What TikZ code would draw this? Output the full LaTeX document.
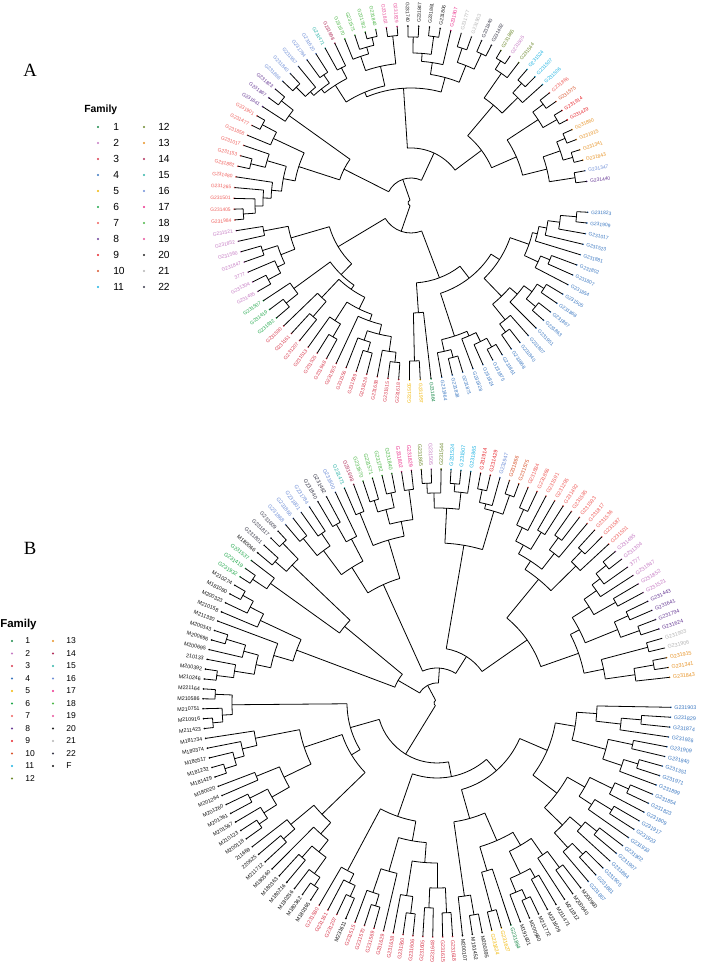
\documentclass[tikz,border=0pt]{standalone}
\usepackage{fontspec}
\setmainfont{Liberation Sans}
\newfontfamily\panelfont{Liberation Serif}

\definecolor{fam0}{HTML}{111111}
\definecolor{fam1}{HTML}{1A8A4A}
\definecolor{fam2}{HTML}{C67BC4}
\definecolor{fam3}{HTML}{D93A4E}
\definecolor{fam4}{HTML}{3B78C2}
\definecolor{fam5}{HTML}{F2B705}
\definecolor{fam6}{HTML}{1FA84A}
\definecolor{fam7}{HTML}{F0605D}
\definecolor{fam8}{HTML}{6B3E98}
\definecolor{fam9}{HTML}{E8242B}
\definecolor{fam10}{HTML}{D9552E}
\definecolor{fam11}{HTML}{1CB3E3}
\definecolor{fam12}{HTML}{6E8B2E}
\definecolor{fam13}{HTML}{E89325}
\definecolor{fam14}{HTML}{B2305C}
\definecolor{fam15}{HTML}{30B5A9}
\definecolor{fam16}{HTML}{6F8FD8}
\definecolor{fam17}{HTML}{EC2F8C}
\definecolor{fam18}{HTML}{4DB848}
\definecolor{fam19}{HTML}{E9519B}
\definecolor{fam20}{HTML}{222222}
\definecolor{fam21}{HTML}{B5B5B5}
\definecolor{fam22}{HTML}{3A3A4A}
\definecolor{famF}{HTML}{111111}

\newcounter{ndcount}

% leaf: angle of tip number #1
\newcommand\Lf[1]{%
  \pgfmathsetmacro\tmpang{\angzero+(#1-1)*\angstep}%
  \xdef\retang{\tmpang}\xdef\retname{\tpre#1}}

% inner node: radius, first child, second child
\newcommand\Nd[3]{%
  \begingroup
    \begingroup#2\endgroup
    \let\aA\retang \let\nA\retname
    \begingroup#3\endgroup
    \let\aB\retang \let\nB\retname
    \pgfmathsetmacro\aM{(\aA+\aB)/2}%
    \pgfmathsetmacro\rr{#1*0.75}%
    \stepcounter{ndcount}%
    \edef\nM{\tpre n\arabic{ndcount}}%
    \coordinate (\nM) at (\aM:#1);
    \draw[branch] (\aA:#1) arc[start angle=\aA, end angle=\aB, radius=\rr pt];
    \draw[branch] (\nA) -- (\aA:#1);
    \draw[branch] (\nB) -- (\aB:#1);
    \xdef\retang{\aM}\xdef\retname{\nM}%
  \endgroup}

% tips with coloured dot and turned label
\newcommand\Tips[1]{%
  \foreach \lab/\fc [count=\i] in {#1}{
    \pgfmathsetmacro\ang{\angzero+(\i-1)*\angstep}
    \pgfmathsetmacro\labr{\tipr+2.5}
    \pgfmathtruncatemacro\side{(\ang>90)*(\ang<=270)}
    \coordinate (\tpre\i) at (\ang:\tipr);
    \fill[fam\fc] (\tpre\i) circle[radius=0.7pt];
    \ifnum\side=0
      \node[\tpre lab, text=fam\fc, rotate=\ang, anchor=west] (\tpre l\i) at (\ang:\labr) {\lab};
    \else
      \pgfmathsetmacro\angr{\ang-180}
      \node[\tpre lab, text=fam\fc, rotate=\angr, anchor=east] (\tpre l\i) at (\ang:\labr) {\lab};
    \fi
  }}

\tikzset{
  branch/.style={line width=0.6pt, black},
  Alab/.style={font=\fontsize{3.7}{4}\selectfont, inner sep=0.5pt},
  Blab/.style={font=\fontsize{4}{4.5}\selectfont, inner sep=0.5pt},
  legA/.style={font=\fontsize{7.7}{9}\selectfont, inner sep=0pt},
  legB/.style={font=\fontsize{6.4}{8}\selectfont, inner sep=0pt},
  famhead/.style={font=\bfseries\fontsize{7.8}{9}\selectfont, inner sep=0pt},
  famheadB/.style={font=\bfseries\fontsize{8.6}{10}\selectfont, inner sep=0pt},
  panel/.style={font=\panelfont\fontsize{14}{16}\selectfont, inner sep=0pt},
}

\begin{document}
\begin{tikzpicture}[x=0.75pt,y=0.75pt]
\fill[white] (0,0) rectangle (700,967);
\useasboundingbox (0,0) rectangle (700,967);

\node[panel] (pA) at (30,897) {A};
\node[panel] (pB) at (30,419) {B};

% legend A
\node[famhead, anchor=west] (legAt) at (84,857) {Family};
\foreach \i in {1,...,11}{
  \pgfmathsetmacro\yy{840-16*(\i-1)}
  \fill[fam\i] (98,\yy) circle[radius=0.9pt];
  \node[legA, anchor=west] (legA\i) at (113,\yy) {\i};
}
\foreach \i in {12,...,22}{
  \pgfmathsetmacro\yy{840-16*(\i-12)}
  \fill[fam\i] (144,\yy) circle[radius=0.9pt];
  \node[legA, anchor=west] (legA\i) at (158,\yy) {\i};
}

% legend B
\node[famheadB, anchor=west] (legBt) at (0,342) {Family};
\foreach \i in {1,...,12}{
  \pgfmathsetmacro\yy{326-12.5*(\i-1)}
  \fill[fam\i] (12,\yy) circle[radius=0.8pt];
  \node[legB, anchor=west] (legB\i) at (25,\yy) {\i};
}
\foreach \i in {13,...,22}{
  \pgfmathsetmacro\yy{326-12.5*(\i-13)}
  \fill[fam\i] (53,\yy) circle[radius=0.8pt];
  \node[legB, anchor=west] (legB\i) at (66,\yy) {\i};
}
\fill[famF] (53,201) circle[radius=0.8pt];
\node[legB, anchor=west] (legBF) at (66,201) {F};

% tree A
\begin{scope}[shift={(411,764)}]
\def\tpre{A}\def\angzero{7}\def\angstep{3.5}\def\tipr{177}
\Tips{G231440/8,G231347/16,G231843/13,G231341/13,G231915/13,G231860/13,
G231429/9,G231914/9,G231575/10,G231866/7,G231506/11,G231507/11,G231524/11,
G231544/12,G231505/2,G231865/12,G231482/22,G231840/22,G231903/21,G231777/21,
G231907/17,G231806/20,G231861/20,G231847/20,G231740/20,G231829/19,G231802/19,
G231840/18,G231782/18,G231571/18,G231670/18,G231698/14,G231471/15,G231620/16,
G231784/16,G231957/16,G231840/16,G231866/16,G231823/8,G231867/8,G231641/8,
G231901/7,G231477/7,G231858/7,G231017/7,G231153/7,G231882/7,G231480/7,
G231265/7,G231501/7,G231405/7,G231984/7,G231521/2,G231852/2,G231560/2,
G231847/2,3777/2,G231304/2,G231495/2,G231507/6,G231419/6,G231932/6,
G231590/3,G231161/3,G231207/3,G231513/3,G231525/3,G231948/3,G231505/3,
G231556/3,G231589/3,G231626/3,G231638/3,G231515/3,G231618/3,G231505/5,
G231957/5,G231864/1,G231964/4,G231838/4,G231871/4,G231828/4,G231824/4,
G231875/4,G231861/4,G231868/4,G231840/4,G231807/4,G231951/4,G231863/4,
G231867/4,G231868/4,G231505/4,G231854/4,G231807/4,G231802/4,G231881/4,
G231523/4,G231017/4,G231909/4,G231823/4}
\Nd{3}{%
 \Nd{25}{%
  \Nd{55}{%
   \Nd{88}{%
    \Nd{115}{%
     \Nd{140}{\Nd{166}{\Lf{1}}{\Lf{2}}}{\Nd{158}{\Nd{168}{\Lf{3}}{\Lf{4}}}{\Nd{167}{\Lf{5}}{\Lf{6}}}}%
    }{%
     \Nd{152}{\Nd{168}{\Lf{7}}{\Lf{8}}}{\Nd{165}{\Lf{9}}{\Lf{10}}}%
    }%
   }{%
    \Nd{128}{\Nd{150}{\Lf{11}}{\Nd{163}{\Lf{12}}{\Lf{13}}}}{\Nd{158}{\Lf{14}}{\Nd{168}{\Lf{15}}{\Lf{16}}}}%
   }%
  }{%
   \Nd{115}{%
    \Nd{130}{%
     \Nd{148}{\Nd{165}{\Lf{17}}{\Lf{18}}}{\Nd{163}{\Lf{19}}{\Lf{20}}}%
    }{%
     \Nd{142}{\Lf{21}}{\Nd{150}{\Nd{168}{\Lf{22}}{\Lf{23}}}{\Nd{166}{\Lf{24}}{\Lf{25}}}}%
    }%
   }{%
    \Nd{120}{%
     \Nd{140}{\Nd{168}{\Lf{26}}{\Lf{27}}}{\Nd{155}{\Nd{162}{\Nd{170}{\Lf{28}}{\Lf{29}}}{\Lf{30}}}{\Lf{31}}}%
    }{%
     \Nd{140}{\Nd{152}{\Lf{32}}{\Lf{33}}}{\Nd{145}{\Nd{155}{\Lf{34}}{\Lf{35}}}{\Nd{150}{\Lf{36}}{\Nd{163}{\Lf{37}}{\Lf{38}}}}}%
    }%
   }%
  }%
 }{%
  \Nd{75}{%
   \Nd{150}{\Nd{165}{\Lf{39}}{\Lf{40}}}{\Lf{41}}%
  }{%
   \Nd{118}{%
    \Nd{152}{\Nd{168}{\Lf{42}}{\Lf{43}}}{\Lf{44}}%
   }{%
    \Nd{130}{\Nd{150}{\Lf{45}}{\Nd{165}{\Lf{46}}{\Lf{47}}}}{\Nd{140}{\Lf{48}}{\Nd{148}{\Lf{49}}{\Nd{156}{\Lf{50}}{\Nd{168}{\Lf{51}}{\Lf{52}}}}}}%
   }%
  }%
 }%
}{%
 \Nd{30}{%
  \Nd{85}{%
   \Nd{125}{\Nd{150}{\Lf{53}}{\Lf{54}}}{\Nd{140}{\Nd{156}{\Lf{55}}{\Lf{56}}}{\Nd{148}{\Lf{57}}{\Nd{162}{\Lf{58}}{\Lf{59}}}}}%
  }{%
   \Nd{100}{%
    \Nd{145}{\Lf{60}}{\Nd{160}{\Lf{61}}{\Lf{62}}}%
   }{%
    \Nd{105}{%
     \Nd{130}{\Lf{63}}{\Nd{150}{\Lf{64}}{\Lf{65}}}%
    }{%
     \Nd{118}{%
      \Nd{140}{\Lf{66}}{\Nd{155}{\Lf{67}}{\Lf{68}}}%
     }{%
      \Nd{125}{\Lf{69}}{\Nd{135}{\Nd{145}{\Lf{70}}{\Nd{155}{\Lf{71}}{\Lf{72}}}}{\Nd{150}{\Lf{73}}{\Nd{160}{\Lf{74}}{\Lf{75}}}}}%
     }%
    }%
   }%
  }%
 }{%
  \Nd{80}{%
   \Nd{110}{\Nd{158}{\Lf{76}}{\Lf{77}}}{\Lf{78}}%
  }{%
   \Nd{95}{%
    \Nd{140}{\Nd{152}{\Lf{79}}{\Nd{160}{\Lf{80}}{\Lf{81}}}}{\Nd{145}{\Lf{82}}{\Nd{155}{\Lf{83}}{\Nd{165}{\Lf{84}}{\Lf{85}}}}}%
   }{%
    \Nd{105}{%
     \Nd{130}{\Nd{150}{\Nd{160}{\Lf{86}}{\Lf{87}}}{\Lf{88}}}{\Nd{140}{\Lf{89}}{\Nd{150}{\Nd{162}{\Lf{90}}{\Lf{91}}}{\Nd{158}{\Lf{92}}{\Lf{93}}}}}%
    }{%
     \Nd{125}{\Nd{140}{\Lf{94}}{\Nd{150}{\Lf{95}}{\Lf{96}}}}{\Nd{130}{\Lf{97}}{\Nd{138}{\Lf{98}}{\Nd{150}{\Lf{99}}{\Nd{166}{\Lf{100}}{\Lf{101}}}}}}%
    }%
   }%
  }%
 }%
}
\end{scope}

% tree B
\begin{scope}[shift={(437,264)}]
\def\tpre{B}\def\angzero{6.3}\def\angstep{2.432}\def\tipr{234}
\Tips{G231843/13,G231341/13,G231915/13,G231906/21,G231903/21,G231624/8,
G231794/8,G231641/8,G231443/8,G231521/2,G231852/2,G231847/2,3777/2,G231304/2,
G231485/2,G231501/7,G231587/7,G231536/7,G231817/7,G231593/7,G231585/7,
G231492/7,G231295/7,G231591/7,G231866/7,G231884/7,G231575/10,G231866/10,
G231947/16,G231429/9,G231914/9,G231865/11,G231507/11,G231524/11,G231544/12,
G231505/2,G231865/12,G231829/17,G231802/17,G231840/18,G231782/18,G231571/18,
G231670/18,G231698/14,G231471/15,G231800/16,G231482/22,G231840/22,G231784/16,
G231801/16,G231866/16,G231868/16,G231609/22,G231817/22,G231801/22,M180066/0,
G231537/6,G231419/6,G231932/6,M210274/0,M181080/0,M200323/0,M210158/0,
M211330/0,M200343/0,M200696/0,M200695/0,210133/0,M200392/0,M210246/0,
M221164/0,M210586/0,M210751/0,M210916/0,M211423/0,M181734/0,M180374/0,
M180517/0,M181232/0,M181429/0,M180020/0,M201264/0,M201260/0,M201361/0,
M201567/0,M210123/0,M200118/0,211669/0,220625/0,M211712/0,M180560/0,
M180363/0,M180216/0,M180256/0,M180362/0,M180365/0,G231580/3,G231161/3,
G231207/3,M231611/0,G231515/3,G231570/3,G231569/3,G231629/3,G231638/3,
G231550/3,G231606/3,G231605/3,G231648/3,G231615/3,G231618/3,M200107/0,
M191452/0,M200395/0,G231624/5,G231627/5,G231864/1,M191601/0,M200980/0,
M211772/0,M231609/0,M211471/0,M211812/0,M200640/0,M200960/0,G231867/4,
G231881/4,G231905/4,G231864/4,G231907/4,G231902/4,G231933/4,G231923/4,
G231917/4,G231809/4,G231823/4,G231854/4,G231899/4,G231971/4,G231351/4,
G231840/4,G231909/4,G231926/4,G231874/4,G231829/4,G231903/4}
\Nd{3}{%
 \Nd{20}{%
  \Nd{35}{%
   \Nd{55}{%
    \Nd{110}{%
     \Nd{150}{%
      \Nd{170}{\Nd{200}{\Lf{1}}{\Nd{220}{\Lf{2}}{\Lf{3}}}}{\Nd{218}{\Lf{4}}{\Lf{5}}}%
     }{%
      \Nd{160}{\Nd{195}{\Nd{215}{\Lf{6}}{\Lf{7}}}{\Nd{210}{\Lf{8}}{\Lf{9}}}}{\Nd{180}{\Nd{205}{\Lf{10}}{\Lf{11}}}{\Nd{195}{\Lf{12}}{\Nd{205}{\Lf{13}}{\Nd{218}{\Lf{14}}{\Lf{15}}}}}}%
     }%
    }{%
     \Nd{160}{\Nd{195}{\Lf{16}}{\Nd{210}{\Lf{17}}{\Lf{18}}}}{\Nd{170}{\Nd{190}{\Lf{19}}{\Nd{205}{\Lf{20}}{\Lf{21}}}}{\Nd{180}{\Nd{200}{\Lf{22}}{\Lf{23}}}{\Nd{195}{\Lf{24}}{\Nd{212}{\Lf{25}}{\Lf{26}}}}}}%
    }%
   }{%
    \Nd{160}{\Nd{200}{\Nd{220}{\Lf{27}}{\Lf{28}}}{\Nd{205}{\Lf{29}}{\Nd{218}{\Lf{30}}{\Lf{31}}}}}{\Nd{195}{\Nd{212}{\Lf{32}}{\Nd{220}{\Lf{33}}{\Lf{34}}}}{\Nd{210}{\Lf{35}}{\Nd{220}{\Lf{36}}{\Lf{37}}}}}%
   }%
  }{%
   \Nd{130}{%
    \Nd{170}{\Nd{185}{\Nd{215}{\Lf{38}}{\Lf{39}}}{\Nd{200}{\Nd{215}{\Lf{40}}{\Lf{41}}}{\Nd{212}{\Lf{42}}{\Lf{43}}}}}{\Nd{205}{\Lf{44}}{\Lf{45}}}%
   }{%
    \Nd{160}{\Nd{185}{\Lf{46}}{\Nd{205}{\Lf{47}}{\Lf{48}}}}{\Nd{190}{\Nd{205}{\Lf{49}}{\Lf{50}}}{\Nd{212}{\Lf{51}}{\Lf{52}}}}%
   }%
  }%
 }{%
  \Nd{45}{%
   \Nd{120}{\Nd{200}{\Nd{222}{\Lf{53}}{\Lf{54}}}{\Nd{215}{\Lf{55}}{\Lf{56}}}}{\Nd{205}{\Lf{57}}{\Nd{222}{\Lf{58}}{\Lf{59}}}}%
  }{%
   \Nd{150}{%
    \Nd{195}{\Nd{210}{\Nd{222}{\Lf{60}}{\Lf{61}}}{\Lf{62}}}{\Lf{63}}%
   }{%
    \Nd{170}{\Lf{64}}{\Nd{185}{\Nd{200}{\Nd{220}{\Lf{65}}{\Lf{66}}}{\Lf{67}}}{\Nd{205}{\Lf{68}}{\Nd{222}{\Lf{69}}{\Lf{70}}}}}%
   }%
  }%
 }%
}{%
 \Nd{60}{%
  \Nd{90}{%
   \Nd{205}{\Nd{222}{\Lf{71}}{\Lf{72}}}{\Nd{215}{\Lf{73}}{\Nd{225}{\Lf{74}}{\Lf{75}}}}%
  }{%
   \Nd{100}{%
    \Nd{140}{\Nd{185}{\Lf{76}}{\Nd{200}{\Lf{77}}{\Nd{210}{\Lf{78}}{\Nd{222}{\Lf{79}}{\Lf{80}}}}}}{\Nd{170}{\Nd{195}{\Lf{81}}{\Lf{82}}}{\Nd{190}{\Nd{210}{\Lf{83}}{\Lf{84}}}{\Nd{205}{\Lf{85}}{\Nd{215}{\Lf{86}}{\Lf{87}}}}}}%
   }{%
    \Nd{160}{\Nd{190}{\Lf{88}}{\Nd{205}{\Lf{89}}{\Lf{90}}}}{\Nd{175}{\Lf{91}}{\Nd{190}{\Nd{205}{\Lf{92}}{\Lf{93}}}{\Nd{210}{\Lf{94}}{\Nd{220}{\Lf{95}}{\Lf{96}}}}}}%
   }%
  }%
 }{%
  \Nd{75}{%
   \Nd{120}{%
    \Nd{190}{\Lf{97}}{\Nd{200}{\Lf{98}}{\Nd{212}{\Lf{99}}{\Lf{100}}}}%
   }{%
    \Nd{140}{\Nd{175}{\Nd{200}{\Lf{101}}{\Nd{212}{\Lf{102}}{\Lf{103}}}}{\Lf{104}}}{\Nd{160}{\Nd{195}{\Lf{105}}{\Nd{212}{\Lf{106}}{\Lf{107}}}}{\Nd{185}{\Nd{205}{\Lf{108}}{\Lf{109}}}{\Nd{210}{\Lf{110}}{\Lf{111}}}}}%
   }%
  }{%
   \Nd{90}{%
    \Nd{120}{%
     \Nd{195}{\Lf{112}}{\Nd{215}{\Lf{113}}{\Lf{114}}}%
    }{%
     \Nd{150}{\Nd{175}{\Nd{215}{\Lf{115}}{\Lf{116}}}{\Lf{117}}}{\Nd{165}{\Nd{190}{\Nd{205}{\Lf{118}}{\Nd{215}{\Lf{119}}{\Lf{120}}}}{\Nd{200}{\Lf{121}}{\Lf{122}}}}{\Nd{185}{\Lf{123}}{\Nd{205}{\Lf{124}}{\Lf{125}}}}}%
    }%
   }{%
    \Nd{120}{%
     \Nd{150}{\Nd{175}{\Nd{195}{\Lf{126}}{\Nd{210}{\Lf{127}}{\Lf{128}}}}{\Nd{190}{\Lf{129}}{\Nd{205}{\Lf{130}}{\Lf{131}}}}}{\Nd{170}{\Nd{185}{\Lf{132}}{\Nd{205}{\Lf{133}}{\Lf{134}}}}{\Nd{195}{\Lf{135}}{\Nd{210}{\Lf{136}}{\Lf{137}}}}}%
    }{%
     \Nd{140}{\Nd{175}{\Nd{195}{\Lf{138}}{\Nd{210}{\Lf{139}}{\Lf{140}}}}{\Nd{200}{\Lf{141}}{\Lf{142}}}}{\Nd{160}{\Nd{185}{\Lf{143}}{\Nd{205}{\Lf{144}}{\Lf{145}}}}{\Lf{146}}}%
    }%
   }%
  }%
 }%
}
\end{scope}
\end{tikzpicture}
\end{document}
